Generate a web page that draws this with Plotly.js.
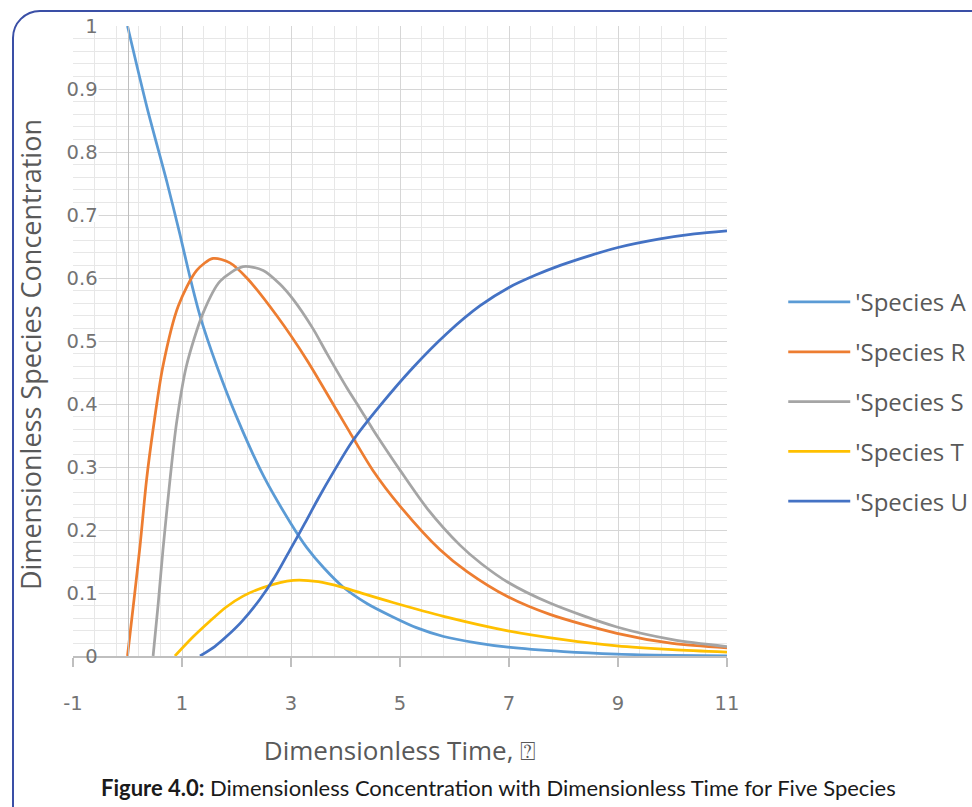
<!DOCTYPE html>
<html>
<head>
<meta charset="utf-8">
<script src="https://cdn.plot.ly/plotly-3.0.1.min.js"></script>
<style>
  html, body { margin: 0; padding: 0; background: #ffffff; overflow: hidden; }
  #wrap { position: relative; width: 972px; height: 807px; overflow: hidden; background: #fff; }
  #frame { position: absolute; left: 12px; top: 10px; width: 1000px; height: 830px;
           border: 2px solid #3a4fa6; border-radius: 28px; box-sizing: border-box; }
  #chart { position: absolute; left: 0; top: 0; width: 972px; height: 807px; }
</style>
</head>
<body>
<div id="wrap">
  <div id="frame"></div>
  <div id="chart"></div>
</div>
<script>
// Species A
const tA = [0, 0.36, 0.73, 0.96, 1.15, 1.33, 1.64, 2.0, 2.5, 3.0, 3.29, 3.6, 3.95, 4.4, 4.87, 5.3, 5.8, 6.4, 6.98, 8.0, 8.98, 10, 11];
const yA = [1.0, 0.87, 0.75, 0.67, 0.60, 0.54, 0.46, 0.38, 0.285, 0.21, 0.172, 0.14, 0.11, 0.083, 0.062, 0.045, 0.031, 0.021, 0.014, 0.007, 0.003, 0.001, 0.0];
// Species R
const tR = [0, 0.12, 0.23, 0.35, 0.47, 0.65, 0.93, 1.27, 1.57, 1.88, 2.19, 2.74, 3.29, 3.84, 4.08, 4.5, 5.0, 5.73, 6.23, 6.98, 7.75, 8.98, 10, 11];
const yR = [0, 0.09, 0.175, 0.28, 0.36, 0.46, 0.555, 0.612, 0.631, 0.624, 0.600, 0.54, 0.47, 0.39, 0.355, 0.295, 0.238, 0.169, 0.134, 0.094, 0.066, 0.036, 0.02, 0.013];
// Species S
const tS = [0.47, 0.56, 0.65, 0.78, 0.9, 1.08, 1.39, 1.7, 2.12, 2.49, 2.8, 3.04, 3.4, 3.66, 4.03, 4.25, 4.5, 4.75, 5.0, 5.5, 6.1, 6.5, 6.98, 7.75, 8.98, 10, 11];
const yS = [0, 0.08, 0.168, 0.28, 0.37, 0.46, 0.545, 0.595, 0.618, 0.612, 0.59, 0.566, 0.52, 0.48, 0.425, 0.395, 0.36, 0.327, 0.295, 0.234, 0.176, 0.146, 0.117, 0.084, 0.046, 0.026, 0.015];
// Species T
const tT = [0.87, 1.2, 1.51, 1.8, 2.12, 2.5, 3.04, 3.5, 3.95, 4.4, 4.87, 5.8, 6.98, 8.0, 8.98, 10, 11];
const yT = [0, 0.03, 0.055, 0.077, 0.095, 0.109, 0.12, 0.118, 0.109, 0.097, 0.085, 0.063, 0.04, 0.026, 0.016, 0.01, 0.006];
// Species U
const tU = [1.33, 1.6, 1.83, 2.1, 2.43, 2.7, 2.98, 3.25, 3.5, 3.8, 4.12, 4.63, 5.24, 5.86, 6.47, 7.0, 7.5, 7.94, 8.5, 8.98, 9.77, 10.4, 11];
const yU = [0, 0.015, 0.032, 0.055, 0.09, 0.125, 0.168, 0.21, 0.25, 0.295, 0.34, 0.397, 0.458, 0.512, 0.556, 0.585, 0.605, 0.62, 0.636, 0.648, 0.662, 0.67, 0.675];

const seriesNames = ["'Species A", "'Species R", "'Species S", "'Species T", "'Species U"];
const seriesColors = ['#5b9bd5', '#ed7d31', '#a5a5a5', '#ffc000', '#4472c4'];
const seriesT = [tA, tR, tS, tT, tU];
const seriesY = [yA, yR, yS, yT, yU];

const xTickVals = [-1, 1, 3, 5, 7, 9, 11];
const xTickText = ['-1', '1', '3', '5', '7', '9', '11'];
const yTickVals = [0, 0.1, 0.2, 0.3, 0.4, 0.5, 0.6, 0.7, 0.8, 0.9, 1];
const yTickText = ['0', '0.1', '0.2', '0.3', '0.4', '0.5', '0.6', '0.7', '0.8', '0.9', '1'];

const yTitle = 'Dimensionless Species Concentration';
const xTitle = 'Dimensionless Time, \u2370';
const caption = '<b>Figure 4.0:</b> Dimensionless Concentration with Dimensionless Time for Five Species';

const traces = seriesNames.map((n, i) => ({
  type: 'scatter', mode: 'lines', name: n,
  x: seriesT[i], y: seriesY[i],
  line: { color: seriesColors[i], width: 2.75, shape: 'spline', smoothing: 0.8 },
  legendgroup: 'g' + i,
  hoverinfo: 'skip'
}));

// white label backgrounds (gridlines hidden behind the value labels, as in the original)
const labelBacks = yTickVals.map(v => ({
  type: 'rect', xref: 'x', yref: 'y', layer: 'between',
  x0: -1, x1: -0.53, y0: v - 0.011, y1: v + 0.011,
  fillcolor: '#ffffff', line: { width: 0 }
}));

const tickFont = { family: '"DejaVu Sans", sans-serif', size: 19.5, color: '#737373' };

const layout = {
  width: 972, height: 807,
  paper_bgcolor: 'rgba(0,0,0,0)',
  plot_bgcolor: 'rgba(0,0,0,0)',
  margin: { l: 73, r: 245, t: 26, b: 151, autoexpand: false },
  showlegend: true,
  legend: {
    x: 1.086, xanchor: 'left', y: 0.597, yanchor: 'top',
    font: { family: '"Open Sans", Lato, sans-serif', size: 24, color: '#595959' },
    itemwidth: 62, tracegroupgap: 15.6, bgcolor: 'rgba(0,0,0,0)'
  },
  xaxis: {
    range: [-1, 11], tickmode: 'array', tickvals: xTickVals, ticktext: xTickText,
    showgrid: true, gridcolor: '#d6d6d6', gridwidth: 1,
    zeroline: false,
    showline: true, linecolor: '#bfbfbf', linewidth: 1.5,
    ticks: 'outside', ticklen: 9, tickcolor: '#bfbfbf', tickwidth: 1.5,
    ticklabelstandoff: 20,
    tickfont: tickFont,
    minor: { tickmode: 'linear', tick0: -1, dtick: 0.4, showgrid: true, gridcolor: '#e7e7e7', gridwidth: 1, ticks: '' },
    title: { text: xTitle, standoff: 28,
             font: { family: '"Open Sans", Lato, sans-serif', size: 26, color: '#595959' } },
    fixedrange: true
  },
  yaxis: {
    range: [0, 1], tickmode: 'array', tickvals: yTickVals, ticktext: yTickText,
    anchor: 'free', position: 1 / 12, side: 'left',
    showgrid: true, gridcolor: '#d6d6d6', gridwidth: 1,
    zeroline: false,
    showline: true, linecolor: '#bfbfbf', linewidth: 1.5,
    ticks: '', ticklabelstandoff: 26,
    tickfont: tickFont,
    minor: { tickmode: 'linear', tick0: 0, dtick: 0.02, showgrid: true, gridcolor: '#e7e7e7', gridwidth: 1, ticks: '' },
    title: { text: '' },
    fixedrange: true
  },
  shapes: labelBacks,
  annotations: [
    {
      xref: 'paper', yref: 'paper', x: -0.064, y: 0.478, xanchor: 'center', yanchor: 'middle',
      textangle: -90, showarrow: false, text: yTitle,
      font: { family: '"Open Sans", Lato, sans-serif', size: 27, color: '#595959' }
    },
    {
      xref: 'paper', yref: 'paper', x: 0.651, y: -0.208, xanchor: 'center', yanchor: 'middle',
      showarrow: false, text: caption,
      font: { family: 'Lato, "Open Sans", sans-serif', size: 22, color: '#1a1a1a' }
    }
  ]
};

Plotly.newPlot('chart', traces, layout, { displayModeBar: false, staticPlot: true });
</script>
</body>
</html>
